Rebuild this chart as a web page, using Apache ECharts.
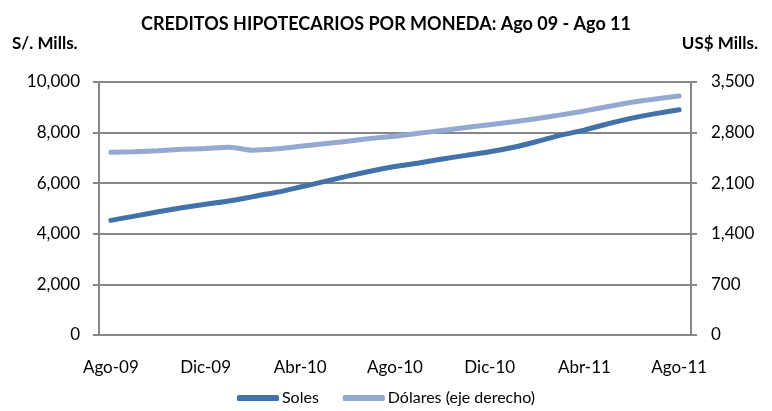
<!DOCTYPE html>
<html>
<head>
<meta charset="utf-8">
<script src="https://cdn.jsdelivr.net/npm/echarts@6/dist/echarts.min.js"></script>
<style>
html,body{margin:0;padding:0;background:#fff}
#chart{width:772px;height:411px}
</style>
</head>
<body>
<div id="chart"></div>
<script>
// monthly categories Ago-09 .. Ago-11
var months = ["Ago-09","Set-09","Oct-09","Nov-09","Dic-09","Ene-10","Feb-10","Mar-10","Abr-10","May-10","Jun-10","Jul-10","Ago-10",
  "Set-10","Oct-10","Nov-10","Dic-10","Ene-11","Feb-11","Mar-11","Abr-11","May-11","Jun-11","Jul-11","Ago-11"];
// S/. millions (left axis)
var soles = [4530,4700,4870,5030,5170,5300,5470,5640,5850,6060,6280,6480,6660,
  6800,6960,7100,7240,7420,7650,7900,8100,8350,8570,8750,8900];
// US$ millions (right axis)
var dolares = [2527,2535,2550,2568,2580,2596,2555,2575,2610,2645,2680,2720,2750,
  2790,2830,2870,2910,2950,2995,3045,3100,3160,3220,3265,3306];
var leftTicks = [0,10000,2000];
var rightTicks = [0,3500,700];

var font = "Lato";
var grey = "#868686";
var fmt = function(v){ return v.toString().replace(/\B(?=(\d{3})+(?!\d))/g, ","); };

var chart = echarts.init(document.getElementById("chart"));
chart.setOption({
  animation:false,
  textStyle:{fontFamily:font,color:"#000"},
  title:{
    text:"CREDITOS HIPOTECARIOS POR MONEDA: Ago 09 - Ago 11",
    left:"center", top:10,
    textStyle:{fontFamily:font,fontSize:18,fontWeight:"bold",color:"#000"}
  },
  grid:{left:99,right:81,top:82,bottom:76},
  legend:{
    bottom:0, left:"center",
    icon:"roundRect", itemWidth:42, itemHeight:6, itemGap:24,
    textStyle:{fontFamily:font,fontSize:16,color:"#000",padding:[0,0,0,-2]},
    data:["Soles","Dólares (eje derecho)"]
  },
  xAxis:{
    type:"category", data:months, boundaryGap:true,
    axisLine:{lineStyle:{color:grey,width:2}},
    axisTick:{interval:3,length:6,lineStyle:{color:grey,width:2}},
    axisLabel:{interval:3,margin:24,fontSize:17,color:"#000"}
  },
  yAxis:[{
    type:"value", min:leftTicks[0], max:leftTicks[1], interval:leftTicks[2],
    name:"S/. Mills.", nameLocation:"end", nameGap:30,
    nameTextStyle:{fontFamily:font,fontSize:17,fontWeight:"bold",color:"#000",align:"left",padding:[0,0,0,-87]},
    axisLine:{show:true,lineStyle:{color:grey,width:2}},
    axisTick:{show:true,length:6,lineStyle:{color:grey,width:2}},
    splitLine:{lineStyle:{color:grey,width:2}},
    axisLabel:{margin:19,fontSize:17,color:"#000",formatter:fmt}
  },{
    type:"value", min:rightTicks[0], max:rightTicks[1], interval:rightTicks[2],
    name:"US$ Mills.", nameLocation:"end", nameGap:30,
    nameTextStyle:{fontFamily:font,fontSize:17,fontWeight:"bold",color:"#000",align:"right",padding:[0,-67,0,0]},
    axisLine:{show:true,lineStyle:{color:grey,width:2}},
    axisTick:{show:true,length:6,lineStyle:{color:grey,width:2}},
    splitLine:{show:false},
    axisLabel:{margin:20,fontSize:17,color:"#000",formatter:fmt}
  }],
  series:[{
    name:"Soles", type:"line", data:soles, yAxisIndex:0,
    symbol:"none", smooth:0.2,
    lineStyle:{color:"#4372AA",width:5,cap:"round"},
    itemStyle:{color:"#4372AA"}
  },{
    name:"Dólares (eje derecho)", type:"line", data:dolares, yAxisIndex:1,
    symbol:"none", smooth:0.2,
    lineStyle:{color:"#93A9D1",width:5,cap:"round"},
    itemStyle:{color:"#93A9D1"}
  }]
});
</script>
</body>
</html>
